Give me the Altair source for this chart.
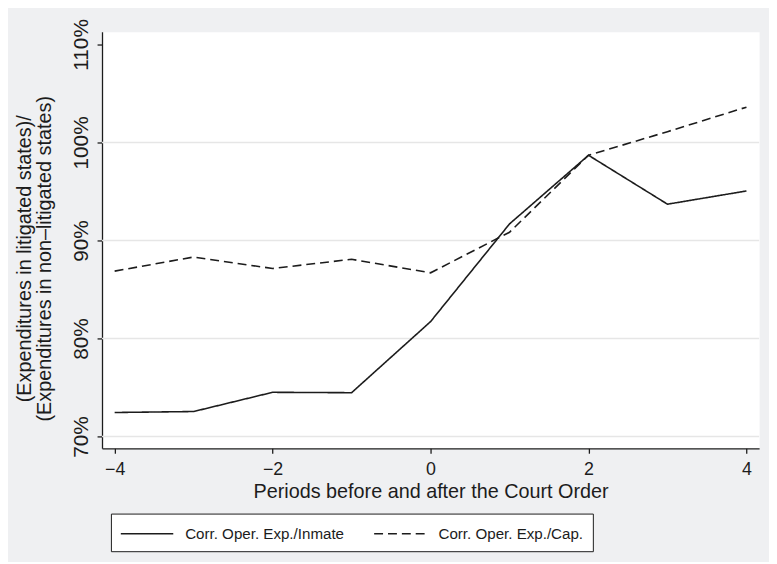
import altair as alt
import pandas as pd

periods = [-4, -3, -2, -1, 0, 1, 2, 3, 4]
per_inmate = [72.45, 72.55, 74.51, 74.47, 81.72, 91.69, 98.69, 93.70, 95.05]
per_capita = [86.87, 88.31, 87.14, 88.08, 86.70, 90.84, 98.69, 101.10, 103.60]
series_names = ["Corr. Oper. Exp./Inmate", "Corr. Oper. Exp./Cap."]
x_ticks = [-4, -2, 0, 2, 4]
y_ticks = [70, 80, 90, 100, 110]
grid_values = [70, 80, 90, 100]
y_title = ["(Expenditures in litigated states)/", "(Expenditures in non\u2013litigated states)"]
x_title = "Periods before and after the Court Order"

rows = []
for name, vals in zip(series_names, [per_inmate, per_capita]):
    for p, v in zip(periods, vals):
        rows.append({"period": p, "value": v, "series": name})
df = pd.DataFrame(rows)

FONT = "Liberation Sans"
INK = "#1c1c1c"

x_scale = alt.Scale(domain=[-4.16, 4.16], nice=False, zero=False)
y_scale = alt.Scale(domain=[68.8, 111.3], nice=False, zero=False)

y_axis = alt.Axis(values=y_ticks, labelExpr="datum.value + '%'",
                  labelAngle=270, labelAlign="center",
                  labelBaseline="bottom", labelPadding=6,
                  labelFont=FONT, labelFontSize=21,
                  title=y_title, titlePadding=16, titleLineHeight=20,
                  titleY=229)

grid = alt.Chart(pd.DataFrame({"g": grid_values})).mark_rule(
    color="#e6e6e6", strokeWidth=1.5
).encode(y=alt.Y("g:Q", scale=y_scale, axis=y_axis))

lines = alt.Chart(df).mark_line(color=INK, strokeWidth=1.6).encode(
    x=alt.X("period:Q", scale=x_scale,
            axis=alt.Axis(values=x_ticks, title=x_title, labelPadding=8,
                          titlePadding=3)),
    y=alt.Y("value:Q", scale=y_scale, axis=y_axis),
    strokeDash=alt.StrokeDash(
        "series:N",
        scale=alt.Scale(domain=series_names, range=[[1, 0], [9, 5]]),
        legend=alt.Legend(
            title=None, orient="none", legendX=9, legendY=487,
            direction="horizontal", symbolType="M-1,0H4.3", symbolSize=400,
            symbolStrokeColor=INK, symbolStrokeWidth=1.6,
            labelFont=FONT, labelFontSize=15.3, labelColor=INK, labelOffset=44,
            columnPadding=26, padding=9, fillColor="white", strokeColor=INK,
            labelLimit=400,
        ),
    ),
)

chart = alt.layer(grid, lines).properties(
    width=664, height=421,
    background="#eff0f2",
    autosize=alt.AutoSizeParams(type="none"),
    padding={"left": 95, "top": 21, "right": 10, "bottom": 112},
).configure_view(fill="white", stroke="transparent").configure_axis(
    grid=False, domainColor=INK, domainWidth=1.3, tickColor=INK, tickWidth=1.3,
    tickSize=5, labelFont=FONT, labelFontSize=18, labelColor=INK,
    titleFont=FONT, titleFontSize=20, titleFontWeight="normal", titleColor=INK,
)

chart.save("out.html", embed_options={"renderer": "svg", "actions": False})
